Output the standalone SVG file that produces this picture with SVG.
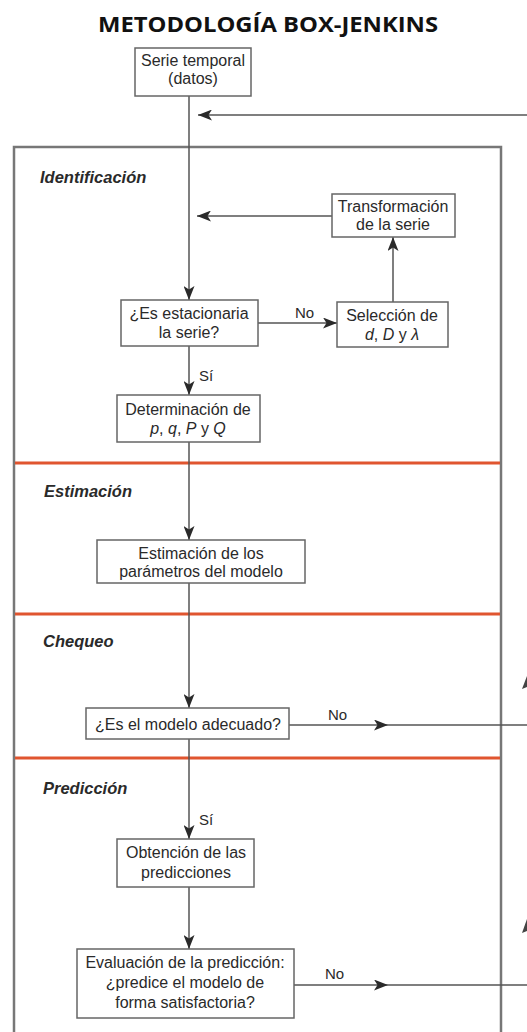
<svg xmlns="http://www.w3.org/2000/svg" width="527" height="1032" viewBox="0 0 527 1032">
<style>
.box{fill:#fff;stroke:#666;stroke-width:1.5}
.t{font-family:"Liberation Sans",Arial,sans-serif;font-size:16px;fill:#2a2a2a;text-anchor:middle}
.lbl{font-family:"Liberation Sans",Arial,sans-serif;font-size:15px;fill:#2a2a2a}
.sec{font-family:"Liberation Sans",Arial,sans-serif;font-size:16.5px;font-weight:bold;font-style:italic;fill:#2a2a2a}
.c{fill:none;stroke:#555;stroke-width:1.5}
.frame{fill:none;stroke:#777;stroke-width:2.5}
.red{stroke:#E0552F;stroke-width:3}
</style>
<defs>
<marker id="ah" markerUnits="userSpaceOnUse" markerWidth="15" markerHeight="11" refX="14" refY="5.5" orient="auto">
<path d="M0,0 L14,5.5 L0,11 L3.5,5.5 z" fill="#2a2a2a"/>
</marker>
</defs>
<rect width="527" height="1032" fill="#fff"/>
<text x="268" y="32" font-family="'Open Sans',sans-serif" font-weight="bold" font-size="22" fill="#111" text-anchor="middle" textLength="340" lengthAdjust="spacingAndGlyphs">METODOLOGÍA BOX-JENKINS</text>

<g id="frame">
<path class="frame" d="M14,1032 V147 H501 V1032"/>
<line class="red" x1="15" y1="463" x2="500" y2="463"/>
<line class="red" x1="15" y1="614" x2="500" y2="614"/>
<line class="red" x1="15" y1="758" x2="500" y2="758"/>
<text class="sec" x="40" y="183">Identificación</text>
<text class="sec" x="44" y="497">Estimación</text>
<text class="sec" x="43" y="647">Chequeo</text>
<text class="sec" x="43" y="794">Predicción</text>
</g>

<g id="connectors">
<line class="c" x1="189" y1="96" x2="189" y2="300" marker-end="url(#ah)"/>
<line class="c" x1="527" y1="115" x2="198" y2="115" marker-end="url(#ah)"/>
<line class="c" x1="332" y1="216" x2="197" y2="216" marker-end="url(#ah)"/>
<line class="c" x1="393" y1="302" x2="393" y2="237" marker-end="url(#ah)"/>
<line class="c" x1="258" y1="323" x2="337" y2="323" marker-end="url(#ah)"/>
<line class="c" x1="189" y1="346" x2="189" y2="395" marker-end="url(#ah)"/>
<line class="c" x1="189" y1="442" x2="189" y2="540" marker-end="url(#ah)"/>
<line class="c" x1="189" y1="583" x2="189" y2="708" marker-end="url(#ah)"/>
<polyline class="c" points="289,725 388,725 527,725" marker-mid="url(#ah)"/>
<line class="c" x1="189" y1="739" x2="189" y2="839" marker-end="url(#ah)"/>
<line class="c" x1="189" y1="887" x2="189" y2="949" marker-end="url(#ah)"/>
<polyline class="c" points="294,985 388,985 527,985" marker-mid="url(#ah)"/>
<text class="lbl" x="295" y="318">No</text>
<text class="lbl" x="199" y="381">Sí</text>
<text class="lbl" x="328" y="720">No</text>
<text class="lbl" x="199" y="825">Sí</text>
<text class="lbl" x="325" y="979">No</text>
<polygon points="527,676 522,689 527,687" fill="#444"/>
<polygon points="527,919 522,933 527,931" fill="#444"/>
</g>

<g id="serie">
<rect class="box" x="135" y="48" width="116" height="48"/>
<text class="t" x="193" y="66">Serie temporal</text>
<text class="t" x="193" y="84">(datos)</text>
</g>
<g id="transformacion">
<rect class="box" x="332" y="194" width="123" height="43"/>
<text class="t" x="393" y="212">Transformación</text>
<text class="t" x="393" y="230">de la serie</text>
</g>
<g id="estacionaria">
<rect class="box" x="121" y="300" width="137" height="46"/>
<text class="t" x="189" y="319">¿Es estacionaria</text>
<text class="t" x="189" y="338">la serie?</text>
</g>
<g id="seleccion">
<rect class="box" x="337" y="302" width="111" height="45"/>
<text class="t" x="392" y="321">Selección de</text>
<text class="t" x="392" y="340"><tspan font-style="italic">d</tspan>, <tspan font-style="italic">D</tspan> y <tspan font-style="italic">λ</tspan></text>
</g>
<g id="determinacion">
<rect class="box" x="117" y="395" width="143" height="47"/>
<text class="t" x="188" y="415">Determinación de</text>
<text class="t" x="188" y="434"><tspan font-style="italic">p</tspan>, <tspan font-style="italic">q</tspan>, <tspan font-style="italic">P</tspan> y <tspan font-style="italic">Q</tspan></text>
</g>
<g id="estimacion">
<rect class="box" x="97" y="540" width="208" height="43"/>
<text class="t" x="201" y="559">Estimación de los</text>
<text class="t" x="201" y="577">parámetros del modelo</text>
</g>
<g id="adecuado">
<rect class="box" x="86" y="708" width="203" height="31"/>
<text class="t" x="188" y="730">¿Es el modelo adecuado?</text>
</g>
<g id="obtencion">
<rect class="box" x="117" y="839" width="137" height="48"/>
<text class="t" x="186" y="858">Obtención de las</text>
<text class="t" x="186" y="878">predicciones</text>
</g>
<g id="evaluacion">
<rect class="box" x="77" y="949" width="217" height="69"/>
<text class="t" x="185" y="968">Evaluación de la predicción:</text>
<text class="t" x="185" y="988">¿predice el modelo de</text>
<text class="t" x="185" y="1008">forma satisfactoria?</text>
</g>
</svg>
